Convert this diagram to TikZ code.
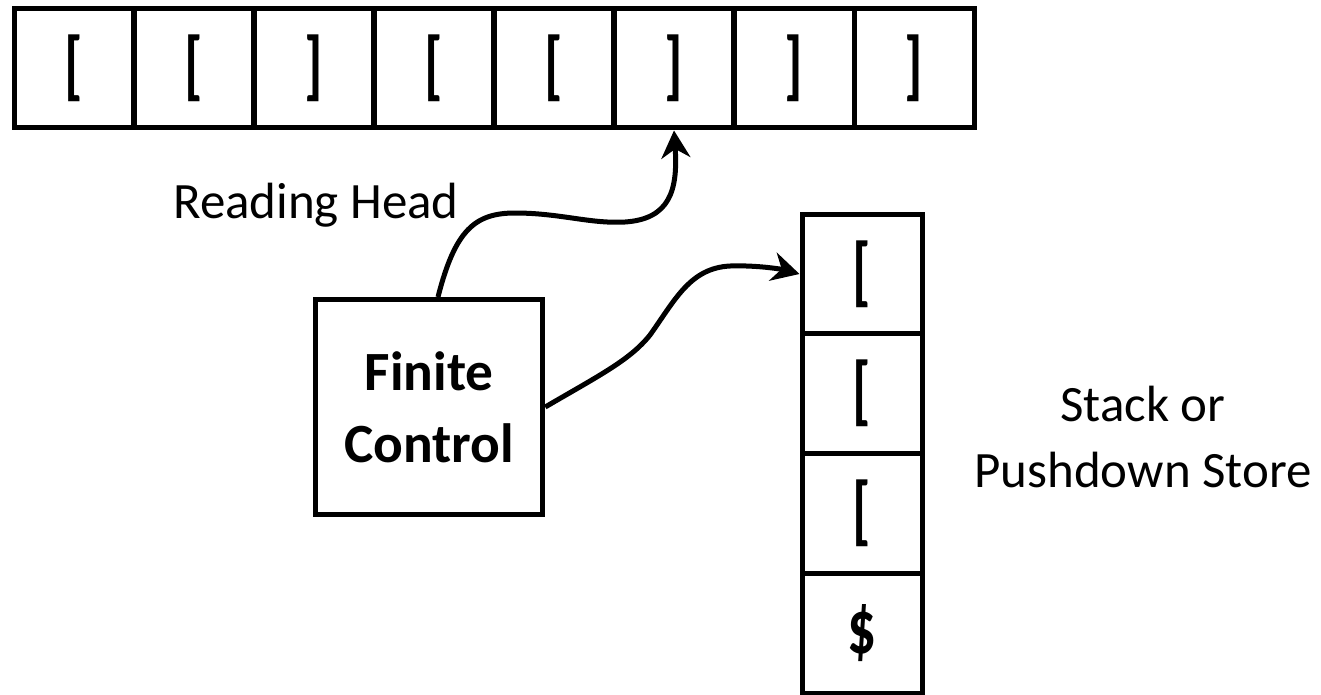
\documentclass[tikz,border=0pt]{standalone}
\usepackage{fontspec}
\usepackage{graphicx}
\setmainfont{Carlito}
\usetikzlibrary{arrows.meta,calc}
\newcommand{\sym}[1]{\scalebox{1.05}[1.4]{#1}}
\begin{document}
\begin{tikzpicture}[x=0.02cm,y=-0.02cm,
  every path/.style={line width=0.1cm},
  cell/.style={draw, line width=0.1cm, minimum width=2.4cm, minimum height=2.4cm,
    inner sep=0pt, font=\fontsize{31}{36}\selectfont\bfseries},
  label/.style={font=\fontsize{29}{36}\selectfont, align=center},
  link/.style={line width=0.1cm, -{Stealth[length=0.55cm,width=0.58cm,inset=0.18cm]}}]
  \useasboundingbox (0,0) rectangle (1321,694);

  % input tape
  \node[cell] (t1) at (74,68) {\sym{[}};
  \node[cell] (t2) at (194,68) {\sym{[}};
  \node[cell] (t3) at (314,68) {\sym{]}};
  \node[cell] (t4) at (434,68) {\sym{[}};
  \node[cell] (t5) at (554,68) {\sym{[}};
  \node[cell] (t6) at (674,68) {\sym{]}};
  \node[cell] (t7) at (794,68) {\sym{]}};
  \node[cell] (t8) at (914,68) {\sym{]}};

  % pushdown store
  \node[cell] (s1) at (862,274) {\sym{[}};
  \node[cell] (s2) at (862,393) {\sym{[}};
  \node[cell] (s3) at (862,513) {\sym{[}};
  \node[cell] (s4) at (862,633) {\sym{\$}};

  % finite control
  \node[draw, line width=0.1cm, minimum width=4.55cm, minimum height=4.3cm,
    align=center, font=\fontsize{31.5}{40}\selectfont\bfseries] (fc) at (429,407) {Finite\\[1pt]Control};

  % labels
  \node[label] (rh) at (316,205) {Reading Head};
  \node[label] (st) at (1143,437) {Stack or\\[2pt]Pushdown Store};

  % connectors
  \coordinate (a0) at ($(fc.north)+(9,0)$);
  \draw[link] (a0) .. controls (455,230) and (475,213) .. (515,213)
    .. controls (560,213) and (590,224) .. (625,222)
    .. controls (670,219) and (678,190) .. (t6.south);
  \draw[link] (fc.east) .. controls (600,375) and (630,360) .. (650,335)
    .. controls (675,300) and (690,268) .. (730,266)
    .. controls (760,265) and (785,270) .. (s1.west);
\end{tikzpicture}
\end{document}
